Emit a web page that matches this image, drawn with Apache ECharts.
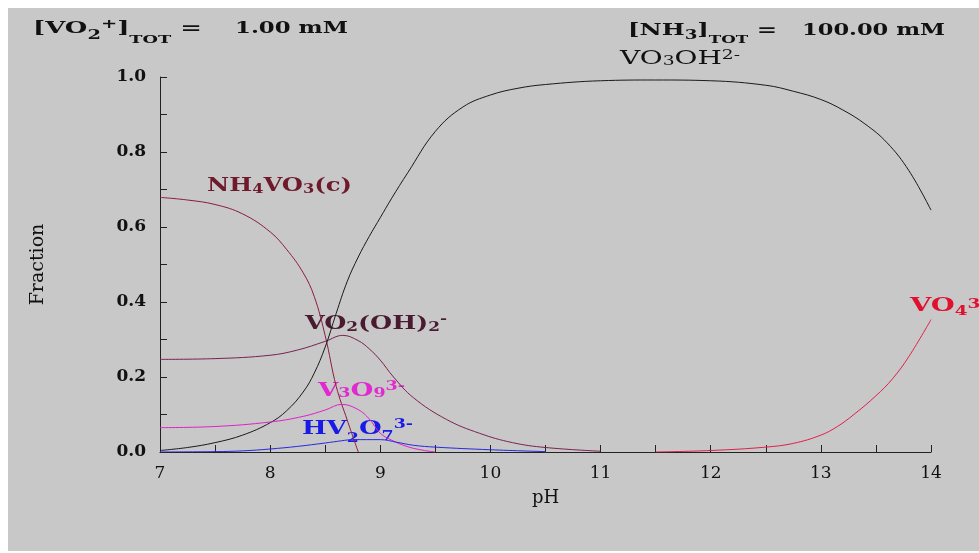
<!DOCTYPE html>
<html><head><meta charset="utf-8">
<script src="https://cdn.jsdelivr.net/npm/echarts@6/dist/echarts.min.js"></script>
<style>html,body{margin:0;padding:0;background:#fff}#c{width:979px;height:553px}</style>
</head><body><div id="c"></div>
<script>
// ---- data (pH vs fraction) ----
const xTickValues = [7, 8, 9, 10, 11, 12, 13, 14];
const yTickLabels = ['0.0', '0.2', '0.4', '0.6', '0.8', '1.0'];

const nh4vo3_pH   = [7.0, 7.25, 7.5, 7.75, 8.0, 8.15, 8.3, 8.4, 8.5, 8.6, 8.7, 8.8];
const nh4vo3_frac = [0.679, 0.672, 0.66, 0.635, 0.587, 0.54, 0.478, 0.415, 0.31, 0.175, 0.085, 0.0];

const vo3oh_pH   = [7.0, 7.25, 7.5, 7.75, 8.0, 8.15, 8.3, 8.4, 8.5, 8.6, 8.7, 8.8, 8.9, 9.0, 9.1, 9.25, 9.5, 9.75, 10.0, 10.25, 10.5, 11.0, 11.5, 12.0, 12.5, 12.75, 13.0, 13.2, 13.4, 13.6, 13.8, 14.0];
const vo3oh_frac = [0.004, 0.012, 0.025, 0.045, 0.078, 0.11, 0.16, 0.21, 0.28, 0.37, 0.455, 0.52, 0.575, 0.625, 0.675, 0.745, 0.855, 0.92, 0.952, 0.97, 0.98, 0.99, 0.992, 0.99, 0.978, 0.962, 0.94, 0.912, 0.875, 0.825, 0.75, 0.645];

const vo2oh2_pH   = [7.0, 7.5, 8.0, 8.25, 8.5, 8.66, 8.8, 8.9, 9.0, 9.12, 9.3, 9.6, 9.9, 10.2, 10.5, 11.0];
const vo2oh2_frac = [0.247, 0.249, 0.258, 0.272, 0.295, 0.311, 0.297, 0.275, 0.245, 0.2, 0.145, 0.087, 0.05, 0.025, 0.012, 0.002];

const v3o9_pH   = [7.0, 7.5, 8.0, 8.3, 8.5, 8.65, 8.8, 8.9, 9.0, 9.1, 9.25, 9.4, 9.5];
const v3o9_frac = [0.065, 0.068, 0.08, 0.095, 0.112, 0.127, 0.113, 0.088, 0.05, 0.032, 0.014, 0.004, 0.0];

const hv2o7_pH   = [7.0, 7.5, 7.75, 8.0, 8.25, 8.5, 8.65, 8.75, 9.0, 9.15, 9.3, 9.5, 10.0, 10.5];
const hv2o7_frac = [0.0, 0.001, 0.003, 0.008, 0.015, 0.024, 0.03, 0.033, 0.033, 0.026, 0.018, 0.013, 0.006, 0.001];

const vo4_pH   = [11.5, 12.0, 12.5, 12.75, 13.0, 13.15, 13.3, 13.5, 13.65, 13.8, 14.0];
const vo4_frac = [0.0, 0.004, 0.013, 0.023, 0.045, 0.068, 0.1, 0.15, 0.195, 0.255, 0.353];

const pairs = (xs, ys) => xs.map((x, i) => [x, ys[i]]);

// ---- label helper (text with sub/superscripts, stretched to width) ----
const FONT = "'DejaVu Serif'";
const ctx = document.createElement('canvas').getContext('2d');
function tw(t, size, weight) { ctx.font = weight + ' ' + size + 'px ' + FONT; return ctx.measureText(t).width; }
function label(tokens, left, right, cy, color, weight) {
  weight = weight || 'bold';
  let x = 0; const children = [];
  tokens.forEach(([t, size, dy]) => {
    children.push({ type: 'text', x: x, y: dy, style: { text: t, fontSize: size, fontFamily: FONT, fontWeight: weight, fill: color, align: 'left', verticalAlign: 'middle' } });
    x += tw(t, size, weight);
  });
  return { type: 'group', x: left, y: cy, scaleX: (right - left) / x, children: children, z: 100 };
}

const chart = echarts.init(document.getElementById('c'), null, { renderer: 'canvas' });
const axisCol = '#222';
chart.setOption({
  animation: false,
  backgroundColor: '#ffffff',
  grid: { left: 160, right: 48, top: 77, bottom: 101 },
  xAxis: {
    type: 'value', min: 7, max: 14, interval: 0.5,
    name: 'pH', nameLocation: 'middle', nameGap: 37,
    nameTextStyle: { fontFamily: FONT, fontSize: 18, color: '#111' },
    axisLine: { show: true, lineStyle: { color: axisCol, width: 1 } },
    axisTick: { show: true, inside: true, length: 7, lineStyle: { color: axisCol } },
    axisLabel: { margin: 13, fontFamily: FONT, fontSize: 17, color: '#111',
      formatter: v => xTickValues.indexOf(v) >= 0 ? String(v) : '' },
    splitLine: { show: false }
  },
  yAxis: {
    type: 'value', min: 0, max: 1, interval: 0.1,
    name: 'Fraction', nameLocation: 'middle', nameGap: 112,
    nameTextStyle: { fontFamily: FONT, fontSize: 19, color: '#111' },
    axisLine: { show: true, lineStyle: { color: axisCol, width: 1 } },
    axisTick: { show: true, inside: true, length: 7, lineStyle: { color: axisCol } },
    axisLabel: { margin: 14, fontFamily: FONT, fontSize: 17, fontWeight: 'bold', color: '#111',
      formatter: v => { const s = v.toFixed(1); return yTickLabels.indexOf(s) >= 0 ? s : ''; } },
    splitLine: { show: false }
  },
  graphic: [
    { type: 'rect', shape: { x: 8, y: 8, width: 971, height: 543 }, style: { fill: '#c8c8c8' }, z: -100, silent: true },
    label([['[VO', 16, 0], ['2', 12, 7], ['+', 12, -4], [']', 16, 0], ['TOT', 11, 11], [' =', 16, 0]], 33, 202, 29, '#111'),
    label([['1.00 mM', 16, 0]], 235, 348, 29, '#111'),
    label([['[NH', 16, 0], ['3', 12, 5], [']', 16, 0], ['TOT', 11, 9], [' =', 16, 0]], 628, 777, 31, '#111'),
    label([['100.00 mM', 16, 0]], 802, 945, 31, '#111'),
    label([['VO', 18, 0], ['3', 12, 3], ['OH', 18, 0], ['2-', 12, -3]], 620, 740, 59, '#111', 'normal'),
    label([['NH', 18, 0], ['4', 12, 3], ['VO', 18, 0], ['3', 12, 3], ['(c)', 18, 0]], 207, 352, 186.5, '#6e1a2c'),
    label([['VO', 18, 0], ['2', 12, 4], ['(OH)', 18, 0], ['2', 12, 4], ['-', 12, -4]], 305, 447, 324, '#4a1a30'),
    label([['V', 18, 0], ['3', 12, 3], ['O', 18, 0], ['9', 12, 3], ['3-', 12, -4]], 318, 405, 391, '#e02ad0'),
    label([['HV', 18, 0], ['2', 12, 10], ['O', 18, 0], ['7', 12, 8], ['3-', 12, -4]], 302, 413, 429, '#1a1ae6'),
    label([['VO', 18, 0], ['4', 12, 5], ['3-', 12, -2]], 910, 988, 306.5, '#e0102e')
  ],
  series: [
    { name: 'NH4VO3(c)', type: 'line', data: pairs(nh4vo3_pH, nh4vo3_frac), color: '#8c1c3e' },
    { name: 'VO2(OH)2-', type: 'line', data: pairs(vo2oh2_pH, vo2oh2_frac), color: '#7a2250' },
    { name: 'VO3OH2-', type: 'line', data: pairs(vo3oh_pH, vo3oh_frac), color: '#1a1a1a' },
    { name: 'V3O9 3-', type: 'line', data: pairs(v3o9_pH, v3o9_frac), color: '#e020c8' },
    { name: 'HV2O7 3-', type: 'line', data: pairs(hv2o7_pH, hv2o7_frac), color: '#2828e0' },
    { name: 'VO4 3-', type: 'line', data: pairs(vo4_pH, vo4_frac), color: '#e0204a' }
  ].map(s => Object.assign(s, { showSymbol: false, smooth: 0.4, lineStyle: { width: 1, color: s.color }, z: 3 }))
});
</script></body></html>
